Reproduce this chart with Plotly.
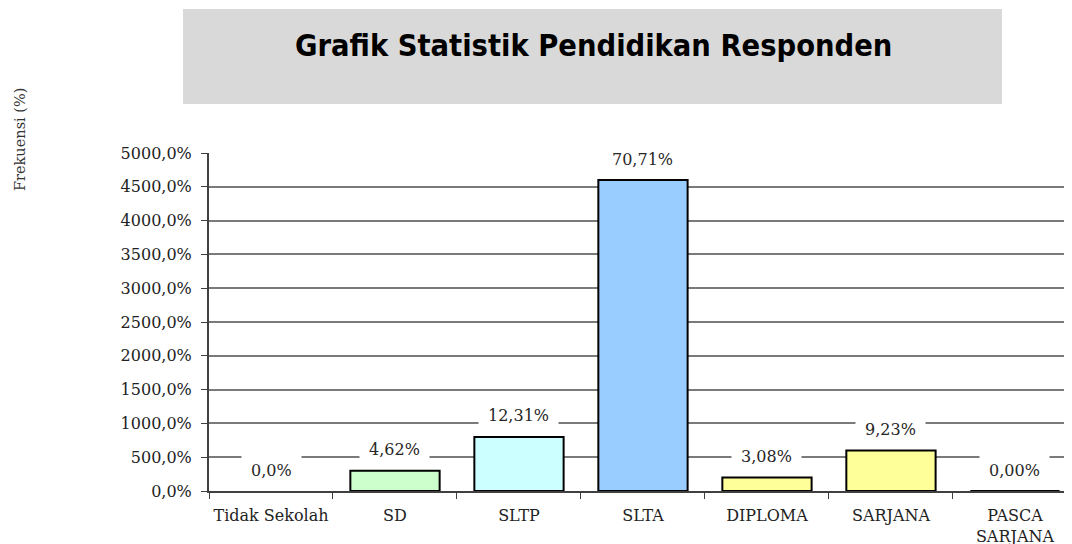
import plotly.graph_objects as go

categories = ["Tidak Sekolah", "SD", "SLTP", "SLTA", "DIPLOMA", "SARJANA", "PASCA<br>SARJANA"]
values = [0, 300, 800, 4600, 200, 600, 0]
labels = ["0,0%", "4,62%", "12,31%", "70,71%", "3,08%", "9,23%", "0,00%"]
colors = ["#ccffcc", "#ccffcc", "#ccffff", "#99ccff", "#ffff99", "#ffff99", "#ffff99"]
outline_widths = [0, 2, 2, 2, 2, 2, 2]
y_ticks = [0, 500, 1000, 1500, 2000, 2500, 3000, 3500, 4000, 4500, 5000]
y_ticktext = [f"{v:.1f}%".replace(".", ",") for v in y_ticks]
title_text = "Grafik Statistik Pendidikan Responden"
y_title = "Frekuensi (%)"

SERIF = "DejaVu Serif"

fig = go.Figure()
fig.add_trace(go.Bar(
    x=categories, y=values,
    marker=dict(color=colors, line=dict(color="#000000", width=outline_widths)),
    width=0.72,
    hoverinfo="skip",
))

for c, v, t in zip(categories, values, labels):
    fig.add_annotation(
        x=c, y=v, text=t, showarrow=False, yshift=21,
        bgcolor="white", borderpad=9,
        font=dict(family=SERIF, size=16, color="#262626"),
    )

# title box
fig.add_shape(type="rect", xref="paper", yref="paper",
              x0=-0.0301, x1=0.9189, y0=1.145, y1=1.426,
              fillcolor="#d9d9d9", line=dict(width=0), layer="below")
fig.add_annotation(xref="paper", yref="paper", x=0.445, y=1.318,
                   xanchor="center", yanchor="middle",
                   text=f"<b>{title_text}</b>", showarrow=False,
                   font=dict(family="DejaVu Sans Condensed, DejaVu Sans", size=30.5, color="#000000"))
fig.add_annotation(xref="paper", yref="paper", x=-0.219, y=1.0385,
                   xanchor="center", yanchor="middle",
                   text=y_title, showarrow=False, textangle=-90,
                   font=dict(family=SERIF, size=14.5, color="#333333"))

fig.update_layout(
    width=1072, height=544,
    margin=dict(l=201, r=8, t=145, b=61, autoexpand=False),
    plot_bgcolor="white", paper_bgcolor="white",
    showlegend=False,
    xaxis=dict(
        range=[-0.5, 6.46], tickson="boundaries", ticks="outside", ticklen=6,
        tickcolor="#404040", showline=True, linecolor="#404040", linewidth=2,
        showgrid=False, tickfont=dict(family=SERIF, size=16, color="#222222"),
        tickangle=0, fixedrange=True, automargin=False, ticklabelstandoff=9,
    ),
    yaxis=dict(
        range=[0, 5000], tickvals=y_ticks, ticktext=y_ticktext,
        ticks="outside", ticklen=6, tickcolor="#404040",
        showline=True, linecolor="#404040", linewidth=2,
        showgrid=True, gridcolor="#7a7a7a", gridwidth=1.5,
        zeroline=False, automargin=False,
        tickfont=dict(family=SERIF, size=16, color="#222222"),
        ticklabelstandoff=6,
    ),
    bargap=0.28,
)

fig.write_html("out.html")
